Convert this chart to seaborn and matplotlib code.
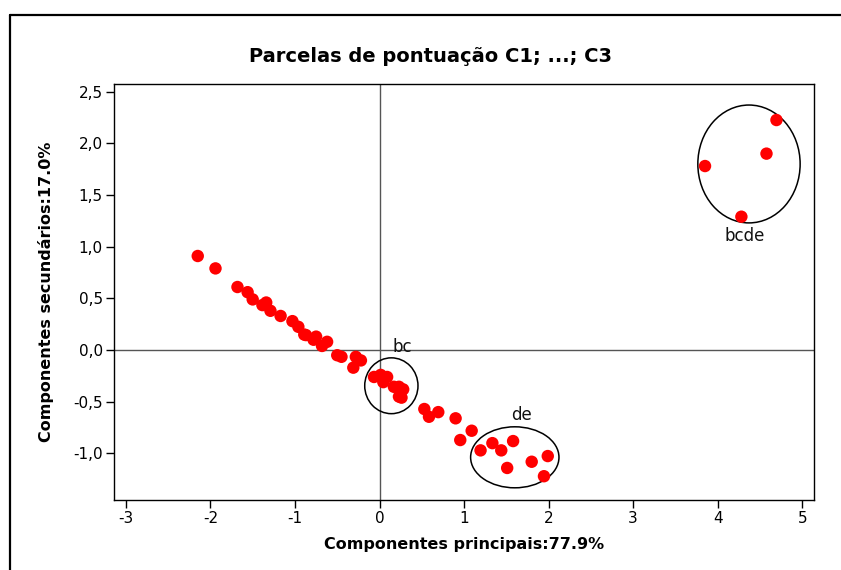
import matplotlib
matplotlib.use("Agg")
import matplotlib.pyplot as plt
from matplotlib.lines import Line2D
from matplotlib.patches import Ellipse
from matplotlib.ticker import FuncFormatter
import seaborn as sns
import pandas as pd

# Score values on the first two principal components
pc1 = [-2.15, -1.94, -1.68, -1.56, -1.50, -1.385, -1.34, -1.29, -1.17, -1.03,
       -0.96, -0.89, -0.87, -0.78, -0.75, -0.68, -0.62, -0.50, -0.45, -0.28,
       -0.22, -0.31, -0.065, 0.014, 0.045, 0.09, 0.17, 0.23, 0.28, 0.23,
       0.26, 0.53, 0.585, 0.695, 0.90, 1.09, 0.955, 1.195, 1.335, 1.44,
       1.58, 1.51, 1.80, 1.99, 1.945, 4.695, 4.577, 3.85, 4.28]
pc2 = [0.91, 0.79, 0.61, 0.56, 0.49, 0.435, 0.46, 0.38, 0.33, 0.28,
       0.225, 0.15, 0.145, 0.10, 0.13, 0.04, 0.08, -0.05, -0.065, -0.065,
       -0.10, -0.17, -0.26, -0.24, -0.31, -0.26, -0.355, -0.355, -0.38, -0.45,
       -0.46, -0.57, -0.645, -0.60, -0.66, -0.78, -0.87, -0.97, -0.90, -0.97,
       -0.88, -1.14, -1.08, -1.025, -1.22, 2.225, 1.90, 1.78, 1.29]

# Grouping ellipses: label, centre x, centre y, width, height, label x, label y
group_labels = ["bc", "de", "bcde"]
group_cx = [0.14, 1.60, 4.37]
group_cy = [-0.345, -1.037, 1.80]
group_w = [0.63, 1.045, 1.21]
group_h = [0.54, 0.59, 1.14]
label_x = [0.27, 1.675, 4.32]
label_y = [0.03, -0.63, 1.10]

x_ticks = [-3, -2, -1, 0, 1, 2, 3, 4, 5]
y_ticks = [-1.0, -0.5, 0.0, 0.5, 1.0, 1.5, 2.0, 2.5]

sns.set_style("white")
plt.rcParams["font.family"] = ["DejaVu Sans"]
plt.rcParams["text.color"] = "black"
plt.rcParams["axes.labelcolor"] = "black"

df = pd.DataFrame({"pc1": pc1, "pc2": pc2})

fig = plt.figure(figsize=(8.41, 5.70), dpi=100)
ax = fig.add_axes([0.1356, 0.1228, 0.968 - 0.1356, 0.852 - 0.1228])

ax.axhline(0, color="#555555", lw=1.0, zorder=1)
ax.axvline(0, color="#555555", lw=1.0, zorder=1)

sns.scatterplot(data=df, x="pc1", y="pc2", ax=ax, color="#ff0000",
                s=80, edgecolor="none", linewidth=0, zorder=3)

for lab, cx, cy, w, h, lx, ly in zip(group_labels, group_cx, group_cy,
                                     group_w, group_h, label_x, label_y):
    ax.add_patch(Ellipse((cx, cy), w, h, fill=False, edgecolor="black",
                         lw=1.1, zorder=2))
    ax.text(lx, ly, lab, fontsize=12, ha="center", va="center", color="#111111")

ax.set_xlim(-3.14, 5.14)
ax.set_ylim(-1.45, 2.57)
ax.set_xticks(x_ticks)
ax.set_yticks(y_ticks)
ax.xaxis.set_major_formatter(FuncFormatter(lambda v, p: f"{v:.0f}"))
ax.yaxis.set_major_formatter(FuncFormatter(lambda v, p: f"{v:.1f}".replace(".", ",")))
ax.tick_params(axis="both", direction="out", length=6, width=1, labelsize=11,
               colors="black", pad=2, bottom=True, left=True)

for sp in ax.spines.values():
    sp.set_color("black")
    sp.set_linewidth(1.0)

ax.set_xlabel("Componentes principais:77.9%", fontsize=11.5, fontweight="bold",
              labelpad=8, color="black")
ax.set_ylabel("Componentes secundários:17.0%", fontsize=11.5, fontweight="bold",
              labelpad=14, color="black")
fig.text(430 / 841, 1 - 57 / 570, "Parcelas de pontuação C1; ...; C3",
         fontsize=14, fontweight="bold", ha="center", va="center", color="black")

# Outer frame around the graph region
y_top = 1 - 15 / 570
x_left = 10 / 841
fig.add_artist(Line2D([x_left, x_left], [0, y_top], color="black", lw=1.6,
                      transform=fig.transFigure))
fig.add_artist(Line2D([x_left, 1], [y_top, y_top], color="black", lw=1.6,
                      transform=fig.transFigure))

fig.savefig("out.png", dpi=100, facecolor="white")
